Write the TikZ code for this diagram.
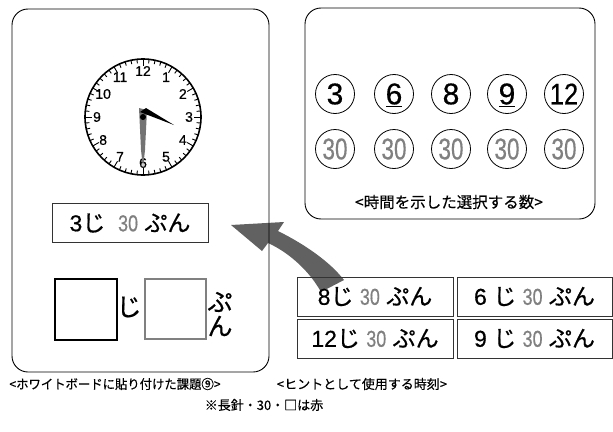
\documentclass[tikz,border=0pt]{standalone}
\usepackage{fontspec}
\usepackage{graphicx}
\usetikzlibrary{calc}
\setmainfont{Liberation Sans}[FakeBold=0.5]
\newfontfamily\jp{Noto Sans CJK JP}[FakeBold=0.6]
\newfontfamily\jpcap{Noto Sans CJK JP}[FakeBold=0.3]
\newcommand{\tn}[1]{{\color{black!50}\scalebox{0.78}[1]{#1}}}
\tikzset{
  board/.style={draw=black, line width=0.9pt, rounded corners=16pt},
  txtbox/.style={draw=black!80, line width=0.8pt, inner sep=0pt},
  num/.style={draw, circle, line width=0.8pt, minimum size=39pt, inner sep=0pt, font=\fontsize{30}{30}\selectfont},
  captext/.style={font=\jpcap\fontsize{13}{13}\selectfont, inner sep=0pt},
  clk/.style={font=\fontsize{14}{14}\selectfont, inner sep=0pt},
  boxtext/.style={font=\fontsize{23}{23}\selectfont, inner sep=0pt},
  kana/.style={font=\jp\fontsize{25}{25}\selectfont, inner sep=0pt},
}
\begin{document}
\begin{tikzpicture}[x=1pt,y=-1pt]
\useasboundingbox (0,0) rectangle (613,431);
% arrow (drawn first so lines lie over it)
\fill[black!62] (231,225) -- (284,222) -- (278,231)
  .. controls (306,245) and (330,262) .. (344,280)
  -- (321,292)
  .. controls (310,272) and (290,253) .. (268,243)
  -- (262,251) -- cycle;
% left board
\draw[board] (12,9) rectangle (269,372);
% clock
\coordinate (c) at (143,117);
\draw[line width=1.6pt] (c) circle (58);
\foreach \i in {0,...,59}{
  \pgfmathsetmacro{\len}{mod(\i,5)==0 ? 7 : 4}
  \draw[line width=0.9pt] ($(c)+(\i*6:58)$) -- ($(c)+(\i*6:58-\len)$);
}
\foreach \h in {1,...,12}{
  \path (c) ++({30*\h-90}:46) node[clk] {\h};
}
% minute hand (red, grey here)
\fill[black!55] (139,108) -- (147,110) -- (145,150) -- (143,168) -- (141,150) -- cycle;
% hour hand
\fill[black] (140,112) -- (146,108) -- (174,125) -- cycle;
\fill[black] (c) circle (3);
% answer box
\node[txtbox, minimum width=156pt, minimum height=39pt] (ans) at (130,223) {};
\node[boxtext] at (ans.center) {3{\jp じ}\ \ \tn{30} {\jp ぷん}};
% blanks
\draw[line width=1.6pt] (55,279) rectangle (117,340);
\node[kana] (ji) at (129,307) {じ};
\draw[black!50, line width=2.4pt] (145,279) rectangle (206,339);
\node[kana] (pu) at (220,302) {ぷ};
\node[kana] (n) at (220,326) {ん};
% right board
\draw[board] (305,8) rectangle (595,219);
\foreach \x/\t [count=\k] in {335/3,394/6,451/8,507/9,564/\scalebox{0.85}[1]{12}}{
  \node[num] (h\k) at (\x,94) {\t};
  \node[num, text=black!50] (m\k) at (\x,149) {\scalebox{0.75}[1]{30}};
}
\draw[line width=0.8pt] (386,106) -- (402,106);
\draw[line width=0.8pt] (499,106) -- (515,106);
\node[captext, font=\jpcap\fontsize{15.5}{15.5}\selectfont] (cap1) at (449,202) {<時間を示した選択する数>};
% hint boxes
\node[txtbox, minimum width=156pt, minimum height=39pt] (b1) at (375,296.5) {};
\node[txtbox, minimum width=155pt, minimum height=39pt] (b2) at (534.5,296.5) {};
\node[txtbox, minimum width=156pt, minimum height=39pt] (b3) at (375,338.5) {};
\node[txtbox, minimum width=155pt, minimum height=39pt] (b4) at (534.5,338.5) {};
\node[boxtext] at (b1.center) {8{\jp じ} \tn{30} {\jp ぷん}};
\node[boxtext] at (b2.center) {6 {\jp じ} \tn{30} {\jp ぷん}};
\node[boxtext] at (b3.center) {12{\jp じ} \tn{30} {\jp ぷん}};
\node[boxtext] at (b4.center) {9 {\jp じ} \tn{30} {\jp ぷん}};
% captions
\node[captext] (c1) at (115,384) {\scalebox{0.95}[1]{<ホワイトボードに貼り付けた課題⑨>}};
\node[captext] (c2) at (362,384) {<ヒントとして使用する時刻>};
\node[captext] (c3) at (264,405) {※長針・30・□は赤};
\end{tikzpicture}
\end{document}
